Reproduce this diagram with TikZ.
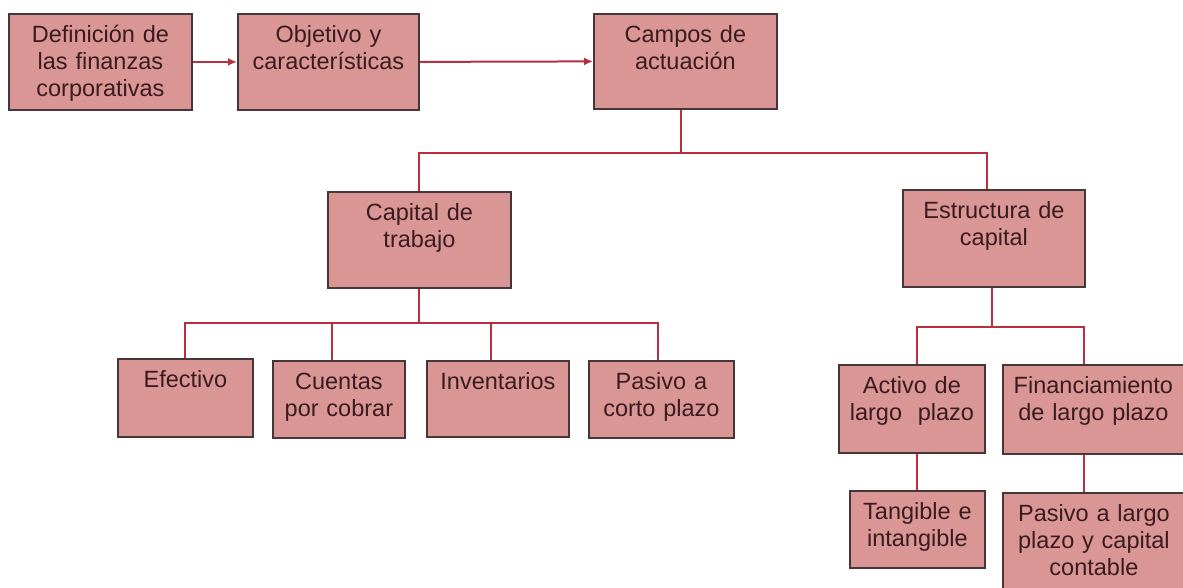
\documentclass[tikz,border=0pt]{standalone}
\usepackage{fontspec}
\setmainfont{Liberation Sans}
\usetikzlibrary{arrows.meta}
\definecolor{cellfill}{HTML}{D99694}
\definecolor{cellline}{HTML}{45363A}
\definecolor{celltext}{HTML}{3A1C20}
\definecolor{wire}{HTML}{B8303F}
\tikzset{
  cell/.style 2 args={draw=cellline,fill=cellfill,line width=1.8pt,anchor=north west,
    inner sep=0pt,align=center,text width=#1,text height=29pt,text depth=#2,
    font=\fontsize{23.5pt}{27pt}\selectfont,text=celltext},
  wire/.style={draw=wire,line width=2pt}
}
\begin{document}
\begin{tikzpicture}[x=1pt,y=-1pt,>={Latex[length=9pt,width=8pt]}]
\fill[white](0,0)rectangle(1183,588);
\useasboundingbox(0,0)rectangle(1183,588);
\clip(0,0)rectangle(1183,588);
\node[cell={183pt}{67pt}](defin) at (8,13){Definición de\\las finanzas\\corporativas};
\node[cell={181pt}{67pt}](objet) at (237,13){Objetivo y\\características};
\node[cell={183pt}{66pt}](campos) at (593,13){Campos de\\actuación};
\node[cell={183pt}{67pt}](captrab) at (327,191){Capital de\\trabajo};
\node[cell={182pt}{68pt}](estruct) at (902,189){Estructura de\\capital};
\node[cell={135pt}{49pt}](efect) at (117,358){Efectivo};
\node[cell={132pt}{48pt}](cuentas) at (272,360){Cuentas\\por cobrar};
\node[cell={142pt}{47pt}](invent) at (426,360){Inventarios};
\node[cell={145pt}{48pt}](pcorto) at (588,360){Pasivo a\\corto plazo};
\node[cell={146pt}{59pt}](activo) at (838,364){Activo de\\largo\ \ plazo};
\node[cell={181pt}{60pt}](financ) at (1002,364){Financiamiento\\de largo plazo};
\node[cell={135pt}{48pt}](tangib) at (849,490){Tangible e\\intangible};
\node[cell={182pt}{81pt}](plargo) at (1002,492){Pasivo a largo\\plazo y capital\\contable};
\coordinate (bus1) at (0,153);
\coordinate (bus2) at (0,323);
\coordinate (bus3) at (0,327);
% top row
\draw[wire,->](defin.east)--(objet.west);
\draw[wire,->](objet.east)--(campos.west);
% campos de actuacion
\draw[wire]([xshift=-4pt]campos.south)--([xshift=-4pt]campos.south|-bus1);
\draw[wire](captrab.north)|-([xshift=-7pt]estruct.north|-bus1)--([xshift=-7pt]estruct.north);
% capital de trabajo
\draw[wire](captrab.south)--(captrab.south|-bus2);
\draw[wire](efect.north)|-([xshift=-3pt]pcorto.north|-bus2)--([xshift=-3pt]pcorto.north);
\draw[wire]([xshift=-7pt]cuentas.north)--([xshift=-7pt]cuentas.north|-bus2);
\draw[wire]([xshift=-7pt]invent.north)--([xshift=-7pt]invent.north|-bus2);
% estructura de capital
\draw[wire]([xshift=-2pt]estruct.south)--([xshift=-2pt]estruct.south|-bus3);
\draw[wire](tangib.north|-activo.north)|-([xshift=-10pt]plargo.north|-bus3)--([xshift=-10pt]plargo.north|-financ.north);
\draw[wire](tangib.north|-activo.south)--(tangib.north);
\draw[wire]([xshift=-10pt]plargo.north|-financ.south)--([xshift=-10pt]plargo.north);
\end{tikzpicture}
\end{document}
